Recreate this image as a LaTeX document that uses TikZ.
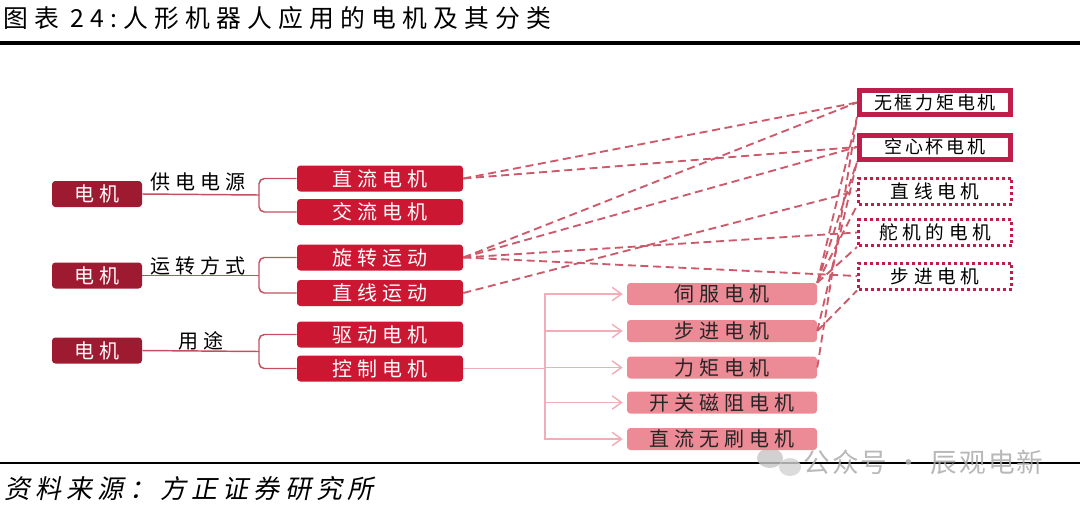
\documentclass[tikz,border=0pt]{standalone}
\usepackage{fontspec}
\setmainfont{Noto Sans CJK SC}
\newfontfamily\boxfont[LetterSpace=25]{Noto Sans CJK SC}
\newfontfamily\rfont[LetterSpace=15]{Noto Sans CJK SC}
\newfontfamily\titlefont[LetterSpace=25]{Noto Sans CJK SC}
\newfontfamily\srcfont[LetterSpace=20,FakeSlant=0.2]{Noto Sans CJK SC}
\newfontfamily\wmfont[LetterSpace=8]{Noto Sans CJK SC}
\usetikzlibrary{arrows.meta}
\definecolor{dkred}{HTML}{9E1A30}
\definecolor{crim}{HTML}{CC1733}
\definecolor{pinkf}{HTML}{EC8A95}
\definecolor{rbord}{HTML}{BF1E4A}
\definecolor{brk}{HTML}{C4505E}
\definecolor{lpink}{HTML}{F0AEB6}
\definecolor{dsh}{HTML}{CD5A6A}
\begin{document}
\begin{tikzpicture}[x=0.75pt,y=-0.75pt,
  bfont/.style={font=\boxfont\fontsize{15}{18}\selectfont},
  dk/.style={bfont,fill=dkred,rounded corners=2.5pt,minimum width=67.5pt,minimum height=19.5pt,inner sep=0pt,text=white},
  md/.style={bfont,fill=crim,rounded corners=2.5pt,minimum width=124.5pt,minimum height=19.5pt,inner sep=0pt,text=white},
  pk/.style={bfont,fill=pinkf,rounded corners=2.5pt,minimum width=142.5pt,minimum height=16.5pt,inner sep=0pt,text=black!85},
  rs/.style={font=\rfont\fontsize{13.5}{16}\selectfont,draw=rbord,line width=3.75pt,fill=white,minimum width=113.25pt,minimum height=18pt,inner sep=0pt},
  rd/.style={font=\boxfont\fontsize{14}{17}\selectfont,draw=rbord,line width=2.25pt,dash pattern=on 2.25pt off 2.25pt,fill=white,minimum width=114.75pt,minimum height=19.5pt,inner sep=0pt},
  lab/.style={bfont,text=black,inner sep=0pt},
  brack/.style={draw=brk,line width=1.1pt,rounded corners=4pt},
  arr/.style={draw=lpink,line width=1.1pt,-{Straight Barb[length=7pt,width=10pt,line width=1.1pt]},shorten >=3pt},
  dl/.style={draw=dsh,line width=1.4pt,dash pattern=on 6pt off 3.5pt}
]
\useasboundingbox (0,0) rectangle (1080,508);
% title and rules
\node[anchor=west,inner sep=0pt,font=\titlefont\fontsize{18.6}{22}\selectfont] (title) at (3,18) {图表 24:人形机器人应用的电机及其分类};
\draw[line width=2.6pt] (0,43) -- (1080,43);
\draw[line width=2.2pt] (0,463) -- (1080,463);
\node[anchor=west,inner sep=0pt,font=\srcfont\fontsize{19.5}{23}\selectfont] (src) at (4,489) {资料来源：方正证券研究所};
% watermark
\fill[gray!45,opacity=0.8] (770,458) ellipse (13 and 10);
\fill[gray!35,opacity=0.8] (790,467) ellipse (11 and 9);
\node[anchor=west,inner sep=0pt,text=gray!65,opacity=0.85,font=\wmfont\fontsize{20}{23}\selectfont] (wm) at (803,462) {公众号 · 辰观电新};

% left column
\node[dk] (e1) at (97,194) {电机};
\node[dk] (e2) at (97,275.5) {电机};
\node[dk] (e3) at (97,350.5) {电机};
\node[lab] (l1) at (198,182) {供电电源};
\node[lab] (l2) at (198,266) {运转方式};
\node[lab] (l3) at (201,341) {用途};

% middle column
\node[md] (c1) at (380,178.5) {直流电机};
\node[md] (c2) at (380,212) {交流电机};
\node[md] (c3) at (380,257.5) {旋转运动};
\node[md] (c4) at (380,293) {直线运动};
\node[md] (c5) at (380,334.5) {驱动电机};
\node[md] (c6) at (380,368.5) {控制电机};

\coordinate (j1) at (259,195);
\coordinate (j2) at (259,275.5);
\coordinate (j3) at (259,351.5);
\draw[brack] (e1.east) -- (j1);
\draw[brack] (c1.west) -| (j1) |- (c2.west);
\draw[brack] (e2.east) -- (j2);
\draw[brack] (c3.west) -| (j2) |- (c4.west);
\draw[brack] (e3.east) -- (j3);
\draw[brack] (c5.west) -| (j3) |- (c6.west);

% pink column
\node[pk] (p1) at (722,294) {伺服电机};
\node[pk] (p2) at (722,331) {步进电机};
\node[pk] (p3) at (722,367.5) {力矩电机};
\node[pk] (p4) at (722,402.5) {开关磁阻电机};
\node[pk] (p5) at (722,439) {直流无刷电机};
\coordinate (k) at (545,368.5);
\draw[draw=lpink,line width=1.1pt] (c6.east) -- (k);
\foreach \p in {p1,p2,p3,p4,p5}{
  \draw[arr] (k) |- (\p.west);
}

% right column
\node[rs] (r1) at (935,102.5) {无框力矩电机};
\node[rs] (r2) at (935,147) {空心杯电机};
\node[rd] (r3) at (935,191) {直线电机};
\node[rd] (r4) at (935,232.5) {舵机的电机};
\node[rd] (r5) at (935,276) {步进电机};

% dashed connections
\draw[dl] (c1.east) -- (r1.west);
\draw[dl] (c1.east) -- (r2.west);
\draw[dl] (c3.east) -- (r1.west);
\draw[dl] (c3.east) -- (r2.west);
\draw[dl] (c3.east) -- (r4.west);
\draw[dl] (c3.east) -- (r5.west);
\draw[dl] (c4.east) -- (r3.west);
\draw[dl] (p1.north east) -- (r1.south west);
\draw[dl] (p1.north east) -- (r2.south west);
\draw[dl] (p1.north east) -- (r3.south west);
\draw[dl] (p1.north east) -- (r4.south west);
\draw[dl] (p2.east) -- (r5.south west);
\draw[dl] (p2.east) -- (r2.south west);
\draw[dl] (p3.east) -- (r1.south west);
\end{tikzpicture}
\end{document}
